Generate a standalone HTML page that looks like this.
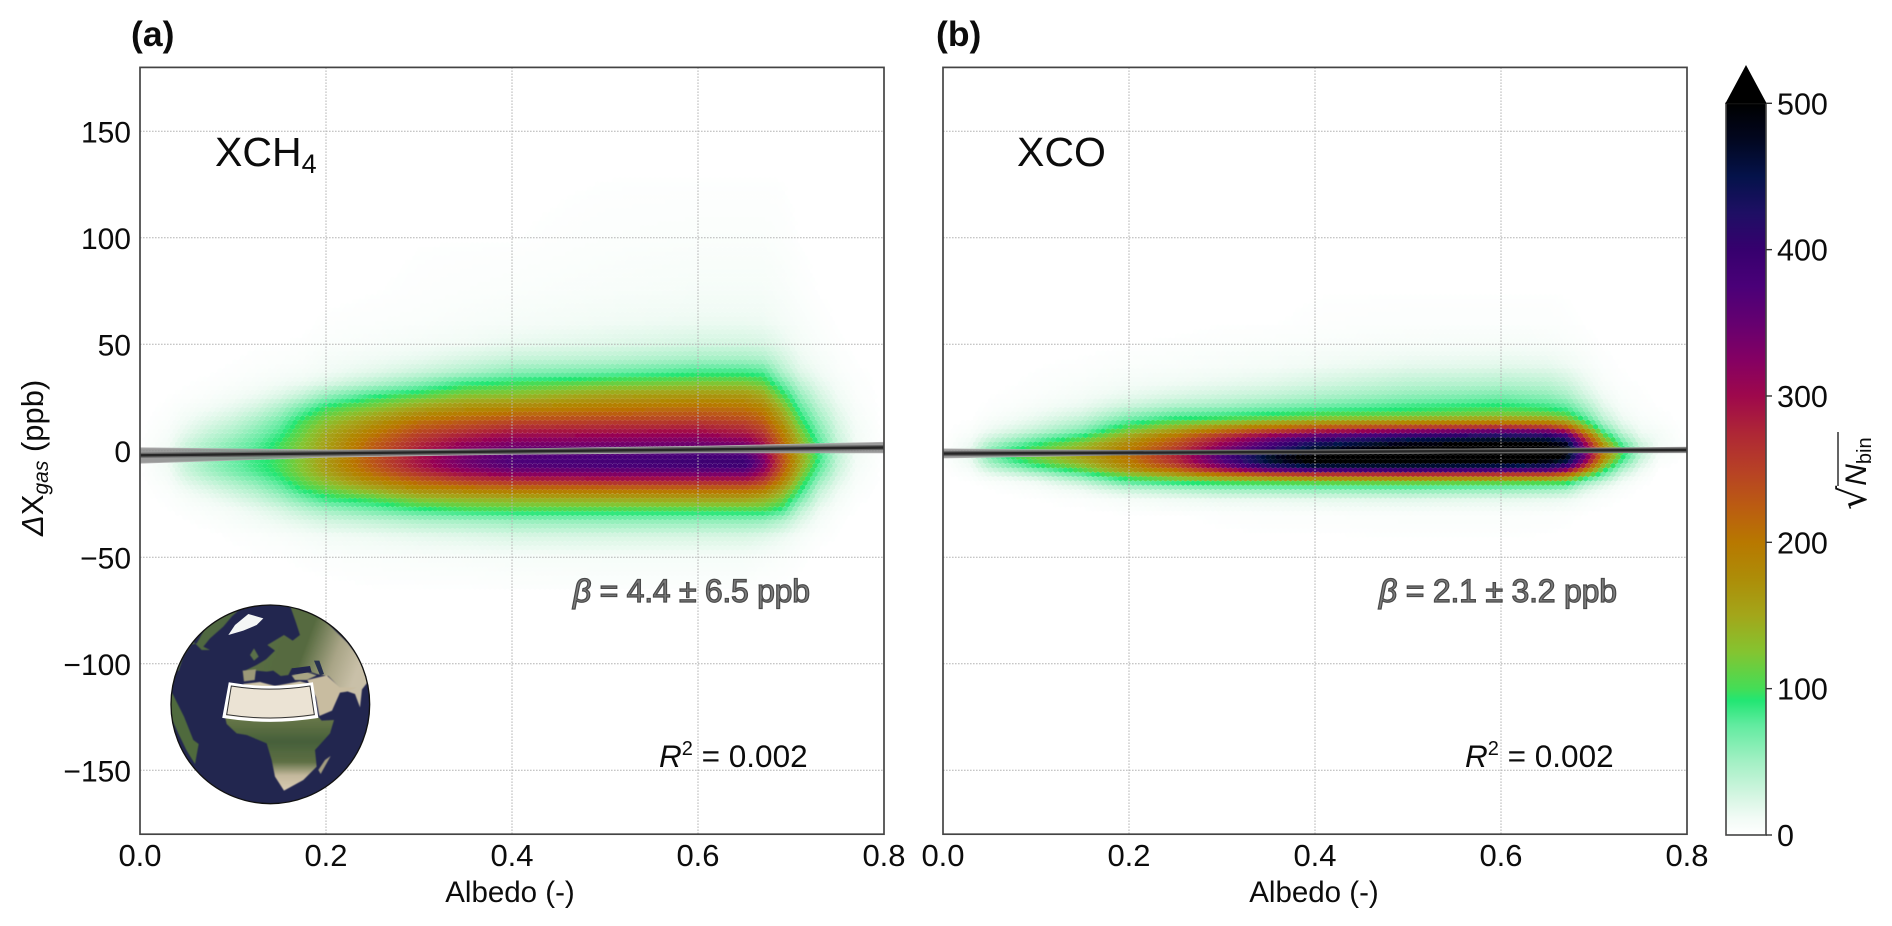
<!DOCTYPE html>
<html lang="en">
<head>
<meta charset="utf-8">
<title>Albedo vs delta X gas hexbin density</title>
<style>
html,body{margin:0;padding:0;background:#fff;}
svg{display:block;font-family:"Liberation Sans",sans-serif;fill:#0c0c0c;}
</style>
</head>
<body>
<svg id="figure" xmlns="http://www.w3.org/2000/svg" width="1892" height="926" viewBox="0 0 1892 926">
  <defs>
    <filter id="soft" x="-2%" y="-2%" width="104%" height="104%"><feGaussianBlur stdDeviation="0.35"/></filter>
    <filter id="landBlur" x="-10%" y="-10%" width="120%" height="120%"><feGaussianBlur stdDeviation="1.6"/></filter>
    <clipPath id="globeClip"><circle cx="331" cy="313" r="298"/></clipPath>
    <linearGradient id="cbarGradient" x1="0" y1="1" x2="0" y2="0"></linearGradient>
    <linearGradient id="africaShade" x1="0" y1="0" x2="0" y2="1">
      <stop offset="0" stop-color="#6d7a4a"/><stop offset="0.35" stop-color="#46603a"/><stop offset="0.62" stop-color="#5e6f44"/><stop offset="0.8" stop-color="#c4b89c"/><stop offset="1" stop-color="#d8ccb4"/>
    </linearGradient>
    <linearGradient id="eurasiaShade" x1="0" y1="0" x2="1" y2="0.3">
      <stop offset="0" stop-color="#5a6f46"/><stop offset="0.55" stop-color="#566a3f"/><stop offset="0.8" stop-color="#a8a486"/><stop offset="1" stop-color="#c9c0a8"/>
    </linearGradient>
  </defs>
  <rect x="0" y="0" width="1892" height="926" fill="#fff"/>
  <g id="plotLayer"></g>

  <text x="131" y="46" font-size="35.5" font-weight="bold">(a)</text>
  <text x="936" y="46" font-size="35.5" font-weight="bold">(b)</text>

  <text x="215" y="166" font-size="41">XCH<tspan font-size="27" dy="7">4</tspan></text>
  <text x="1017" y="166" font-size="41">XCO</text>

  <text x="573" y="602" font-size="32" fill="#7d7d7d" stroke="#4a4a4a" stroke-width="1.25" textLength="237" lengthAdjust="spacing"><tspan font-style="italic">β</tspan> = 4.4 ± 6.5 ppb</text>
  <text x="1379" y="602" font-size="32" fill="#7d7d7d" stroke="#4a4a4a" stroke-width="1.25" textLength="238" lengthAdjust="spacing"><tspan font-style="italic">β</tspan> = 2.1 ± 3.2 ppb</text>

  <text x="659" y="767" font-size="31.5"><tspan font-style="italic">R</tspan><tspan font-size="20" dy="-12">2</tspan><tspan dy="12"> = 0.002</tspan></text>
  <text x="1465" y="767" font-size="31.5"><tspan font-style="italic">R</tspan><tspan font-size="20" dy="-12">2</tspan><tspan dy="12"> = 0.002</tspan></text>

  <text x="510" y="902" font-size="29.5" text-anchor="middle">Albedo (-)</text>
  <text x="1314" y="902" font-size="29.5" text-anchor="middle">Albedo (-)</text>
  <text transform="translate(43,536) rotate(-90)" font-size="31"><tspan font-style="italic">Δ</tspan>X<tspan font-style="italic" font-size="21" dy="5">gas</tspan><tspan dy="-5"> (ppb)</tspan></text>

  <text transform="translate(1866,510) rotate(-90)" font-size="30"><tspan font-family="'DejaVu Sans',sans-serif" font-size="38">√</tspan><tspan font-style="italic">N</tspan><tspan font-size="20" dy="5">bin</tspan></text>
  <line x1="1838" y1="486" x2="1838" y2="432" stroke="#222" stroke-width="1.4"/>

  <g id="inset-globe" transform="translate(160,600) scale(0.33333)">
    <circle cx="331" cy="313" r="298" fill="#22264f"/>
    <g clip-path="url(#globeClip)">
      <g filter="url(#landBlur)">
        <polygon fill="#4f6740" points="110,130 150,60 205,28 250,18 215,50 190,80 150,115 130,140 150,150 125,150 100,125 70,170 55,215 45,190 70,140"/>
        <polygon fill="#4f6a3e" points="30,265 42,290 72,350 100,420 116,432 105,492 80,452 55,400 30,345"/>
        <polygon fill="url(#eurasiaShade)" points="255,212 290,195 318,178 345,152 322,135 372,105 398,122 420,105 408,68 392,22 445,25 505,72 562,128 602,180 628,240 606,268 600,322 585,282 545,268 505,228 470,222 440,212 395,205 385,225 362,228 340,212 320,215 288,212"/>
        <polygon fill="#9b9878" points="248,212 288,208 284,240 252,244"/>
        <polygon fill="#5a7048" points="282,145 296,170 282,182 270,165"/>
        <polygon fill="#a8a584" points="395,226 440,216 470,226 440,240 405,240"/>
        <polygon fill="#cfc5a8" points="250,252 300,246 345,258 420,244 450,252 450,262 250,262"/>
        <polygon fill="#c8bca0" points="442,240 500,226 540,262 590,262 560,275 540,278 516,332 478,348 468,292"/>
        <polygon fill="url(#africaShade)" points="195,350 300,354 470,345 485,362 522,360 510,400 465,450 470,500 430,540 372,572 345,530 335,480 320,430 260,405 230,400 200,372"/>
        <polygon fill="#a39c80" points="512,468 482,522 475,510 495,480"/>
      </g>
      <polygon fill="#22264f" points="395,205 450,198 455,216 410,222"/>
      <polygon fill="#26304f" points="462,182 478,182 492,222 480,226"/>
      <polygon fill="#f4f6f6" points="205,105 225,75 265,42 310,55 290,75 250,92"/>
      <path d="M210,252 Q325,272 455,252 L470,350 Q330,372 192,350 Z" fill="#ebe3d4" stroke="#fff" stroke-width="9"/>
      <path d="M214,258 Q325,277 450,258 L463,344 Q330,364 200,344 Z" fill="none" stroke="#333" stroke-width="3"/>
    </g>
    <circle cx="331" cy="313" r="298" fill="none" stroke="#111" stroke-width="4"/>
  </g>

  <g id="colorbarLayer"></g>
</svg>

<script>
// ---------- chart data ----------
const xTickValues = [0.0, 0.2, 0.4, 0.6, 0.8];
const xTickLabels = ['0.0', '0.2', '0.4', '0.6', '0.8'];
const yTickValues = [150, 100, 50, 0, -50, -100, -150];
const yTickLabels = ['150', '100', '50', '0', '\u221250', '\u2212100', '\u2212150'];
const cbarTickValues = [0, 100, 200, 300, 400, 500];
const cbarTickLabels = ['0', '100', '200', '300', '400', '500'];

const cmapValues = [0, 12, 25, 50, 75, 92, 100, 125, 150, 175, 200, 225, 250, 275, 300, 325, 350, 375, 400, 425, 450, 475, 500];
const cmapColors = ['#ffffff', '#f1fbf5', '#d8f6e4', '#a3f0c4', '#62eba0', '#22e673', '#44dd56', '#84c430', '#a3a61a', '#ad8d08', '#b87800', '#bb5b12', '#b74026', '#ae2636', '#9e084c', '#840063', '#650070', '#4a0078', '#36006e', '#1e0f64', '#04124a', '#020720', '#000000'];

// panel (a): square root of bin count; each line is one albedo bin, each value one gas bin
const ch4AlbedoBins = [0, 0.03, 0.05, 0.075, 0.10, 0.125, 0.15, 0.175, 0.20, 0.25, 0.30, 0.35, 0.40, 0.50, 0.60, 0.65, 0.67, 0.69, 0.71, 0.73, 0.75, 0.77, 0.80];
const ch4GasBins = [130, 100, 75, 60, 50, 43, 37, 32, 26, 20, 14, 8, 3, -2, -6, -10, -14, -18, -23, -28, -33, -40, -50, -65];
const ch4Counts = [
  [0,0,0,0,0,0,0,0,0,0,0,0,0,0,0,0,0,0,0,0,0,0,0,0],
  [0,0,0,0,0,0,0,0,1,2,4,7,10,12,12,10,7,4,2,1,0,0,0,0],
  [0,0,0,0,0,0,0,1,2,6,12,20,30,34,35,31,22,13,6,3,1,0,0,0],
  [0,0,0,0,0,0,1,2,5,11,22,35,47,53,55,50,36,23,12,6,3,0,0,0],
  [0,0,0,0,0,1,2,4,9,18,32,48,62,70,72,66,50,35,20,10,6,2,0,0],
  [0,0,0,0,1,2,4,7,14,28,48,65,78,85,87,82,65,48,30,16,10,3,1,0],
  [0,0,0,0,1,3,6,11,22,45,68,85,98,100,100,98,85,68,45,25,15,5,1,0],
  [0,0,0,0,2,4,8,15,35,70,100,115,125,128,128,125,110,95,65,38,21,8,2,0],
  [0,0,0,2,4,8,12,22,55,98,125,148,155,160,162,155,135,112,85,50,28,11,3,0],
  [0,0,1,3,6,12,20,40,85,125,165,200,222,230,232,215,185,145,100,68,36,14,4,1],
  [0,1,2,4,9,17,32,60,105,155,205,250,275,290,295,270,225,180,125,85,45,18,5,1],
  [0,1,3,6,12,26,45,85,125,175,225,275,315,335,345,310,255,195,135,95,50,21,6,1],
  [0,1,4,8,17,34,60,95,130,185,240,295,335,365,375,335,270,205,140,100,55,25,7,2],
  [1,3,6,12,22,40,70,110,155,200,250,300,340,372,385,345,280,210,145,100,58,26,8,2],
  [1,4,8,15,28,50,85,120,165,210,255,305,345,380,395,350,285,215,150,100,58,26,8,2],
  [1,4,8,15,28,50,85,120,165,205,245,290,335,375,400,350,285,215,150,100,58,26,8,2],
  [1,4,8,14,26,46,80,110,150,190,225,265,300,325,340,310,260,200,140,100,55,22,6,1],
  [1,3,6,10,18,30,45,70,105,140,170,200,220,235,240,225,195,155,118,85,42,16,4,1],
  [0,1,3,6,10,15,22,35,55,78,100,125,140,150,150,135,115,95,65,38,22,8,2,0],
  [0,0,1,3,5,8,12,18,28,40,55,70,82,88,85,72,55,38,25,14,8,3,0,0],
  [0,0,0,1,2,4,5,8,12,18,24,30,35,36,35,30,22,15,9,5,2,1,0,0],
  [0,0,0,0,0,1,2,3,4,6,8,10,11,11,10,8,6,4,2,1,0,0,0,0],
  [0,0,0,0,0,0,0,0,0,0,0,0,0,0,0,0,0,0,0,0,0,0,0,0]
];

// panel (b)
const coAlbedoBins = [0, 0.03, 0.05, 0.075, 0.10, 0.15, 0.20, 0.25, 0.30, 0.35, 0.40, 0.50, 0.60, 0.65, 0.67, 0.69, 0.71, 0.73, 0.75, 0.77, 0.80];
const coGasBins = [100, 75, 60, 50, 40, 32, 26, 21, 18, 15, 12, 9, 6, 3, 0, -3, -6, -9, -12, -15, -18, -23, -30, -45];
const coCounts = [
  [0,0,0,0,0,0,0,0,0,0,0,0,0,0,0,0,0,0,0,0,0,0,0,0],
  [0,0,0,0,0,0,0,0,0,1,3,5,9,14,18,18,14,8,3,1,0,0,0,0],
  [0,0,0,0,0,0,1,2,3,6,10,16,28,45,60,62,48,28,12,4,1,0,0,0],
  [0,0,0,0,0,1,2,4,7,11,17,27,45,70,90,95,75,45,20,7,3,0,0,0],
  [0,0,0,0,1,2,4,8,12,18,26,40,65,90,110,115,100,65,30,12,5,1,0,0],
  [0,0,0,0,2,5,9,16,24,36,50,70,100,130,150,155,140,105,65,35,15,3,0,0],
  [0,0,0,1,4,9,17,32,50,70,95,125,160,185,200,205,195,165,110,75,35,8,1,0],
  [0,0,0,2,5,12,24,45,68,92,125,170,215,240,260,275,265,210,140,90,45,12,1,0],
  [0,0,1,3,7,16,30,52,75,100,150,220,280,310,340,370,360,285,175,100,55,15,2,0],
  [0,0,1,4,9,20,36,62,85,115,175,260,335,375,410,470,460,350,195,105,58,16,3,0],
  [0,1,2,5,12,26,44,70,92,125,195,295,385,440,480,515,505,385,210,110,62,18,3,0],
  [0,1,3,7,18,38,58,85,100,140,215,335,435,490,520,525,505,395,215,115,65,20,4,0],
  [0,1,3,8,20,42,66,95,110,155,235,360,460,510,525,525,495,380,210,110,60,18,4,0],
  [0,1,3,7,18,38,58,85,105,150,225,350,450,500,515,515,480,365,200,105,55,16,3,0],
  [0,1,2,5,14,30,48,75,95,130,195,310,415,480,495,490,440,320,175,100,50,14,2,0],
  [0,0,1,3,8,17,28,48,62,85,120,190,265,315,345,345,305,205,105,55,25,7,1,0],
  [0,0,0,1,3,6,12,20,28,38,55,85,125,165,190,185,150,100,60,30,12,3,0,0],
  [0,0,0,0,1,2,4,7,10,15,22,35,55,80,100,95,70,42,22,10,4,1,0,0],
  [0,0,0,0,0,1,2,3,4,6,9,13,20,30,38,35,25,14,7,3,1,0,0,0],
  [0,0,0,0,0,0,0,1,2,3,5,8,10,10,9,6,3,1,0,0,0,0,0,0],
  [0,0,0,0,0,0,0,0,0,0,0,0,0,0,0,0,0,0,0,0,0,0,0,0]
];

// regression fits: albedo stations with fitted line and confidence limits (ppb)
const fitAlbedo = [0, 0.2, 0.4, 0.6, 0.8];
const ch4Fit = [-2.1, -1.2, -0.3, 0.6, 1.55];
const ch4FitUpper = [1.4, 0.4, 0.9, 2.1, 4.0];
const ch4FitLower = [-5.8, -3.0, -1.6, -1.0, -1.0];
const coFit = [-1.3, -0.9, -0.5, 0.0, 0.4];
const coFitUpper = [0.9, 0.2, 0.4, 1.0, 1.7];
const coFitLower = [-3.4, -1.9, -1.3, -1.0, -0.9];

// ---------- axis geometry ----------
const NS = 'http://www.w3.org/2000/svg';
const plotTop = 67.4, plotBottom = 834.2, plotWidth = 744;
const yMin = -180, yMax = 180, xMin = 0, xMax = 0.8;
const HEX_W = 5.0;
const HEX_ROW = HEX_W * 0.866;
const HEX_R = HEX_W / Math.sqrt(3) * 0.995;

function yScale(v) { return plotBottom - (v - yMin) / (yMax - yMin) * (plotBottom - plotTop); }
function makeXScale(left) { return function (a) { return left + (a - xMin) / (xMax - xMin) * plotWidth; }; }
function make(tag, attrs, parent) {
  const el = document.createElementNS(NS, tag);
  for (const k in attrs) { el.setAttribute(k, attrs[k]); }
  if (parent) { parent.appendChild(el); }
  return el;
}

// ---------- colour map ----------
function hexToRgb(h) { return [parseInt(h.slice(1, 3), 16), parseInt(h.slice(3, 5), 16), parseInt(h.slice(5, 7), 16)]; }
const cmapRgb = cmapColors.map(hexToRgb);
function colorFor(v) {
  if (v >= cmapValues[cmapValues.length - 1]) { return cmapColors[cmapColors.length - 1]; }
  let i = 0;
  while (i < cmapValues.length - 2 && v > cmapValues[i + 1]) { i++; }
  const t = (v - cmapValues[i]) / (cmapValues[i + 1] - cmapValues[i]);
  const a = cmapRgb[i], b = cmapRgb[i + 1];
  return 'rgb(' + Math.round(a[0] + (b[0] - a[0]) * t) + ',' + Math.round(a[1] + (b[1] - a[1]) * t) + ',' + Math.round(a[2] + (b[2] - a[2]) * t) + ')';
}

// ---------- reading a bin value at a hexagon centre ----------
function locate(bins, v) {
  const descending = bins[0] > bins[bins.length - 1];
  for (let i = 0; i < bins.length - 1; i++) {
    const lo = bins[i], hi = bins[i + 1];
    if (descending ? (v <= lo && v >= hi) : (v >= lo && v <= hi)) { return [i, (v - lo) / (hi - lo)]; }
  }
  return null;
}
function countAt(albedoBins, gasBins, counts, a, g) {
  const p = locate(albedoBins, a), q = locate(gasBins, g);
  if (!p || !q) { return 0; }
  const c0 = counts[p[0]], c1 = counts[p[0] + 1];
  const top = c0[q[0]] + (c1[q[0]] - c0[q[0]]) * p[1];
  const bot = c0[q[0] + 1] + (c1[q[0] + 1] - c0[q[0] + 1]) * p[1];
  return top + (bot - top) * q[1];
}

// ---------- panels ----------
const plotLayer = document.getElementById('plotLayer');
const hexShape = [];
for (let k = 0; k < 6; k++) {
  const ang = Math.PI / 6 + k * Math.PI / 3;
  hexShape.push([HEX_R * Math.cos(ang), HEX_R * Math.sin(ang)]);
}

function drawPanel(opts) {
  const x = makeXScale(opts.left);
  const panel = make('g', {}, plotLayer);
  
  

  // hexagonal bins
  const hexGroup = make('g', { filter: 'url(#soft)' }, panel);
  
  
  const rows = Math.floor((plotBottom - plotTop) / HEX_ROW);
  const cols = Math.floor(plotWidth / HEX_W);
  for (let r = 0; r <= rows; r++) {
    const py = plotTop + r * HEX_ROW;
    const g = yMax - (py - plotTop) / (plotBottom - plotTop) * (yMax - yMin);
    for (let c = 0; c <= cols; c++) {
      const px = opts.left + c * HEX_W + (r % 2 ? HEX_W / 2 : 0);
      const a = (px - opts.left) / plotWidth * (xMax - xMin) + xMin;
      const v = countAt(opts.albedoBins, opts.gasBins, opts.counts, a, g);
      if (v < 1.2) { continue; }
      let d = '';
      for (let k = 0; k < 6; k++) {
        d += (k ? 'L' : 'M') + (px + hexShape[k][0]).toFixed(2) + ',' + (py + hexShape[k][1]).toFixed(2);
      }
      const cell = make('path', { d: d + 'Z', fill: colorFor(v) }, hexGroup);
      
      
    }
  }

  // grid
  xTickValues.slice(1, -1).forEach(function (t) {
    const line = make('line', { x1: x(t), x2: x(t), y1: plotTop, y2: plotBottom, stroke: '#b4b4b4', 'stroke-width': 1, 'stroke-dasharray': '1.6 1.4' }, panel);
    
    
  });
  yTickValues.forEach(function (t) {
    const line = make('line', { x1: opts.left, x2: opts.left + plotWidth, y1: yScale(t), y2: yScale(t), stroke: '#b4b4b4', 'stroke-width': 1, 'stroke-dasharray': '1.6 1.4' }, panel);
    
    
  });

  // confidence ribbon and regression line
  let ribbon = '';
  fitAlbedo.forEach(function (a, i) { ribbon += (i ? 'L' : 'M') + x(a).toFixed(1) + ',' + yScale(opts.fitUpper[i]).toFixed(1); });
  for (let i = fitAlbedo.length - 1; i >= 0; i--) { ribbon += 'L' + x(fitAlbedo[i]).toFixed(1) + ',' + yScale(opts.fitLower[i]).toFixed(1); }
  const band = make('path', { d: ribbon + 'Z', fill: '#8c8c8c', 'fill-opacity': 0.88, stroke: '#b0b0b0', 'stroke-width': 0.8 }, panel);
  
  

  const points = fitAlbedo.map(function (a, i) { return x(a).toFixed(1) + ',' + yScale(opts.fit[i]).toFixed(1); }).join(' ');
  const halo = make('polyline', { points: points, fill: 'none', stroke: '#666', 'stroke-width': 5 }, panel);
  
  
  const fitLine = make('polyline', { points: points, fill: 'none', stroke: '#262626', 'stroke-width': 2.4 }, panel);
  
  

  // frame
  const frame = make('rect', { x: opts.left, y: plotTop, width: plotWidth, height: plotBottom - plotTop, fill: 'none', stroke: '#444', 'stroke-width': 1.7 }, panel);
  
  

  // tick labels
  xTickValues.forEach(function (t, i) {
    const lab = make('text', { x: x(t), y: 866, 'font-size': 31, 'text-anchor': 'middle' }, panel);
    
    
    lab.textContent = xTickLabels[i];
  });
  if (opts.yLabels) {
    yTickValues.forEach(function (t, i) {
      const lab = make('text', { x: 131, y: yScale(t) + 11, 'font-size': 30, 'text-anchor': 'end' }, panel);
      
      
      lab.textContent = yTickLabels[i];
    });
  }
}

drawPanel({ name: 'panel-a', left: 140, albedoBins: ch4AlbedoBins, gasBins: ch4GasBins, counts: ch4Counts, fit: ch4Fit, fitUpper: ch4FitUpper, fitLower: ch4FitLower, yLabels: true });
drawPanel({ name: 'panel-b', left: 943, albedoBins: coAlbedoBins, gasBins: coGasBins, counts: coCounts, fit: coFit, fitUpper: coFitUpper, fitLower: coFitLower, yLabels: false });

// ---------- colorbar ----------
const cbar = document.getElementById('colorbarLayer');
const cbarLeft = 1726, cbarRight = 1766, cbarBottom = 835, cbarTop = 103.3, cbarTip = 66;
const cbarMax = cbarTickValues[cbarTickValues.length - 1];
function cbarScale(v) { return cbarBottom - v / cbarMax * (cbarBottom - cbarTop); }

const grad = document.getElementById('cbarGradient');
cmapValues.forEach(function (v, i) {
  make('stop', { offset: v / cbarMax, 'stop-color': cmapColors[i] }, grad);
});
const bar = make('rect', { x: cbarLeft, y: cbarTop, width: cbarRight - cbarLeft, height: cbarBottom - cbarTop, fill: 'url(#cbarGradient)', stroke: '#444', 'stroke-width': 1.6 }, cbar);


const arrow = make('polygon', { points: cbarLeft + ',' + cbarTop + ' ' + (cbarLeft + cbarRight) / 2 + ',' + cbarTip + ' ' + cbarRight + ',' + cbarTop, fill: '#000', stroke: '#000', 'stroke-width': 1 }, cbar);


cbarTickValues.forEach(function (t, i) {
  const tick = make('line', { x1: cbarRight, x2: cbarRight + 6, y1: cbarScale(t), y2: cbarScale(t), stroke: '#333', 'stroke-width': 1.4 }, cbar);
  
  
  const lab = make('text', { x: 1777, y: cbarScale(t) + 11, 'font-size': 30.5 }, cbar);
  
  
  lab.textContent = cbarTickLabels[i];
});
</script>
</body>
</html>
